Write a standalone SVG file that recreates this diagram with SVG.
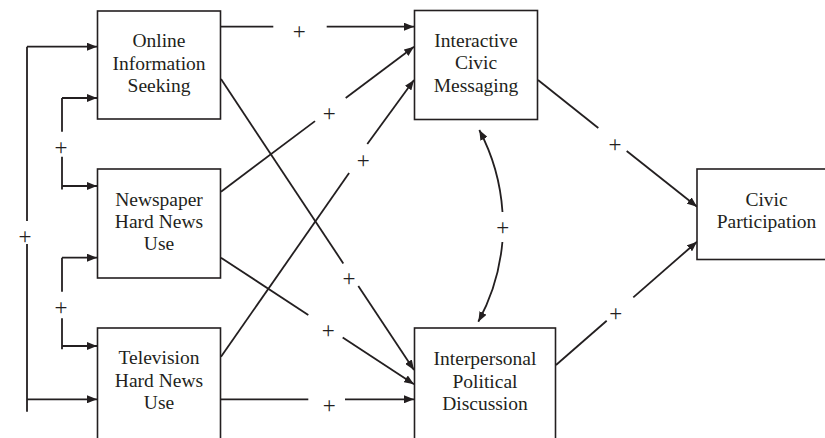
<svg xmlns="http://www.w3.org/2000/svg" width="825" height="438" viewBox="0 0 825 438">
<style>
.box{fill:#fff;stroke:#231f20;stroke-width:1.6}
.lbl{font-family:"Liberation Serif","Times New Roman",serif;font-size:19.5px;fill:#231f20;text-anchor:middle}
.c{fill:none;stroke:#231f20;stroke-width:1.8}
.a{marker-end:url(#ah)}
.s{marker-start:url(#ah)}
.p{font-family:"Liberation Serif","Times New Roman",serif;font-size:23px;fill:#231f20;text-anchor:middle}
</style>
<defs>
<marker id="ah" viewBox="0 0 10 8" refX="10" refY="4" markerWidth="10" markerHeight="8" orient="auto-start-reverse" markerUnits="userSpaceOnUse">
<path d="M0,0 L10,4 L0,8 Z" fill="#231f20"/>
</marker>
</defs>
<rect width="825" height="438" fill="#fff"/>
<g id="connectors">
<path class="c" d="M27,46.7 V221 M27,244 V411.7"/>
<path class="c a" d="M27,46.7 H97"/>
<path class="c a" d="M27,399.3 H97"/>
<text class="p" x="25" y="244">+</text>
<path class="c" d="M62,98 V131.7 M62,156.7 V189.5"/>
<path class="c a" d="M62,98 H97"/>
<path class="c a" d="M62,186 H97"/>
<text class="p" x="61" y="154.7">+</text>
<path class="c" d="M62,257.7 V291.7 M62,318.3 V349.3"/>
<path class="c a" d="M62,257.7 H97"/>
<path class="c a" d="M62,346 H97"/>
<text class="p" x="61" y="315">+</text>
<path class="c" d="M221,26.7 H273.3"/>
<path class="c a" d="M326.7,26.7 H414"/>
<text class="p" x="299.3" y="39">+</text>
<path class="c" d="M221,191.7 L315,121.1"/>
<path class="c a" d="M345.7,98 L414,46.7"/>
<text class="p" x="329.3" y="120.7">+</text>
<path class="c" d="M221,356.7 L349.1,173"/>
<path class="c a" d="M367.3,144 L414,80"/>
<text class="p" x="363.3" y="167.7">+</text>
<path class="c" d="M221,79 L343.3,263.4"/>
<path class="c a" d="M358.3,286.1 L414,370"/>
<text class="p" x="349" y="286">+</text>
<path class="c" d="M221,257.7 L308.3,315"/>
<path class="c a" d="M342.7,337.5 L414,384.3"/>
<text class="p" x="328.3" y="338.4">+</text>
<path class="c" d="M221,399.3 H308.3"/>
<path class="c a" d="M345,399.3 H414"/>
<text class="p" x="329.3" y="413.4">+</text>
<path class="c" d="M538,80 L598.3,128"/>
<path class="c a" d="M626.7,151 L697,206.7"/>
<text class="p" x="615" y="151.7">+</text>
<path class="c" d="M556,365 L606.7,320.7"/>
<path class="c a" d="M633.3,297.4 L697,241.7"/>
<text class="p" x="615.7" y="320.7">+</text>
<path class="c s" d="M479.3,130 A204,204 0 0 1 502.5,212"/>
<path class="c a" d="M502.4,242 A204,204 0 0 1 478.3,321.7"/>
<text class="p" x="502.7" y="234.7">+</text>
</g>
<g id="online">
<rect class="box" x="97.5" y="11" width="123" height="108"/>
<text class="lbl" x="159" y="47">Online</text>
<text class="lbl" x="159" y="69.5">Information</text>
<text class="lbl" x="159" y="92">Seeking</text>
</g>
<g id="newspaper">
<rect class="box" x="97.5" y="169" width="123" height="109"/>
<text class="lbl" x="159" y="205.7">Newspaper</text>
<text class="lbl" x="159" y="227.9">Hard News</text>
<text class="lbl" x="159" y="250">Use</text>
</g>
<g id="television">
<rect class="box" x="97.5" y="328" width="123" height="116"/>
<text class="lbl" x="159" y="364.3">Television</text>
<text class="lbl" x="159" y="387">Hard News</text>
<text class="lbl" x="159" y="409.3">Use</text>
</g>
<g id="interactive">
<rect class="box" x="414.5" y="10.5" width="123" height="109"/>
<text class="lbl" x="476" y="46.7">Interactive</text>
<text class="lbl" x="476" y="69.2">Civic</text>
<text class="lbl" x="476" y="91.7">Messaging</text>
</g>
<g id="interpersonal">
<rect class="box" x="414.5" y="328" width="141" height="116"/>
<text class="lbl" x="485" y="365">Interpersonal</text>
<text class="lbl" x="485" y="387.5">Political</text>
<text class="lbl" x="485" y="409.5">Discussion</text>
</g>
<g id="civic">
<rect class="box" x="697" y="169" width="140" height="90.5"/>
<text class="lbl" x="766.5" y="205.7">Civic</text>
<text class="lbl" x="766.5" y="227.9">Participation</text>
</g>
</svg>
